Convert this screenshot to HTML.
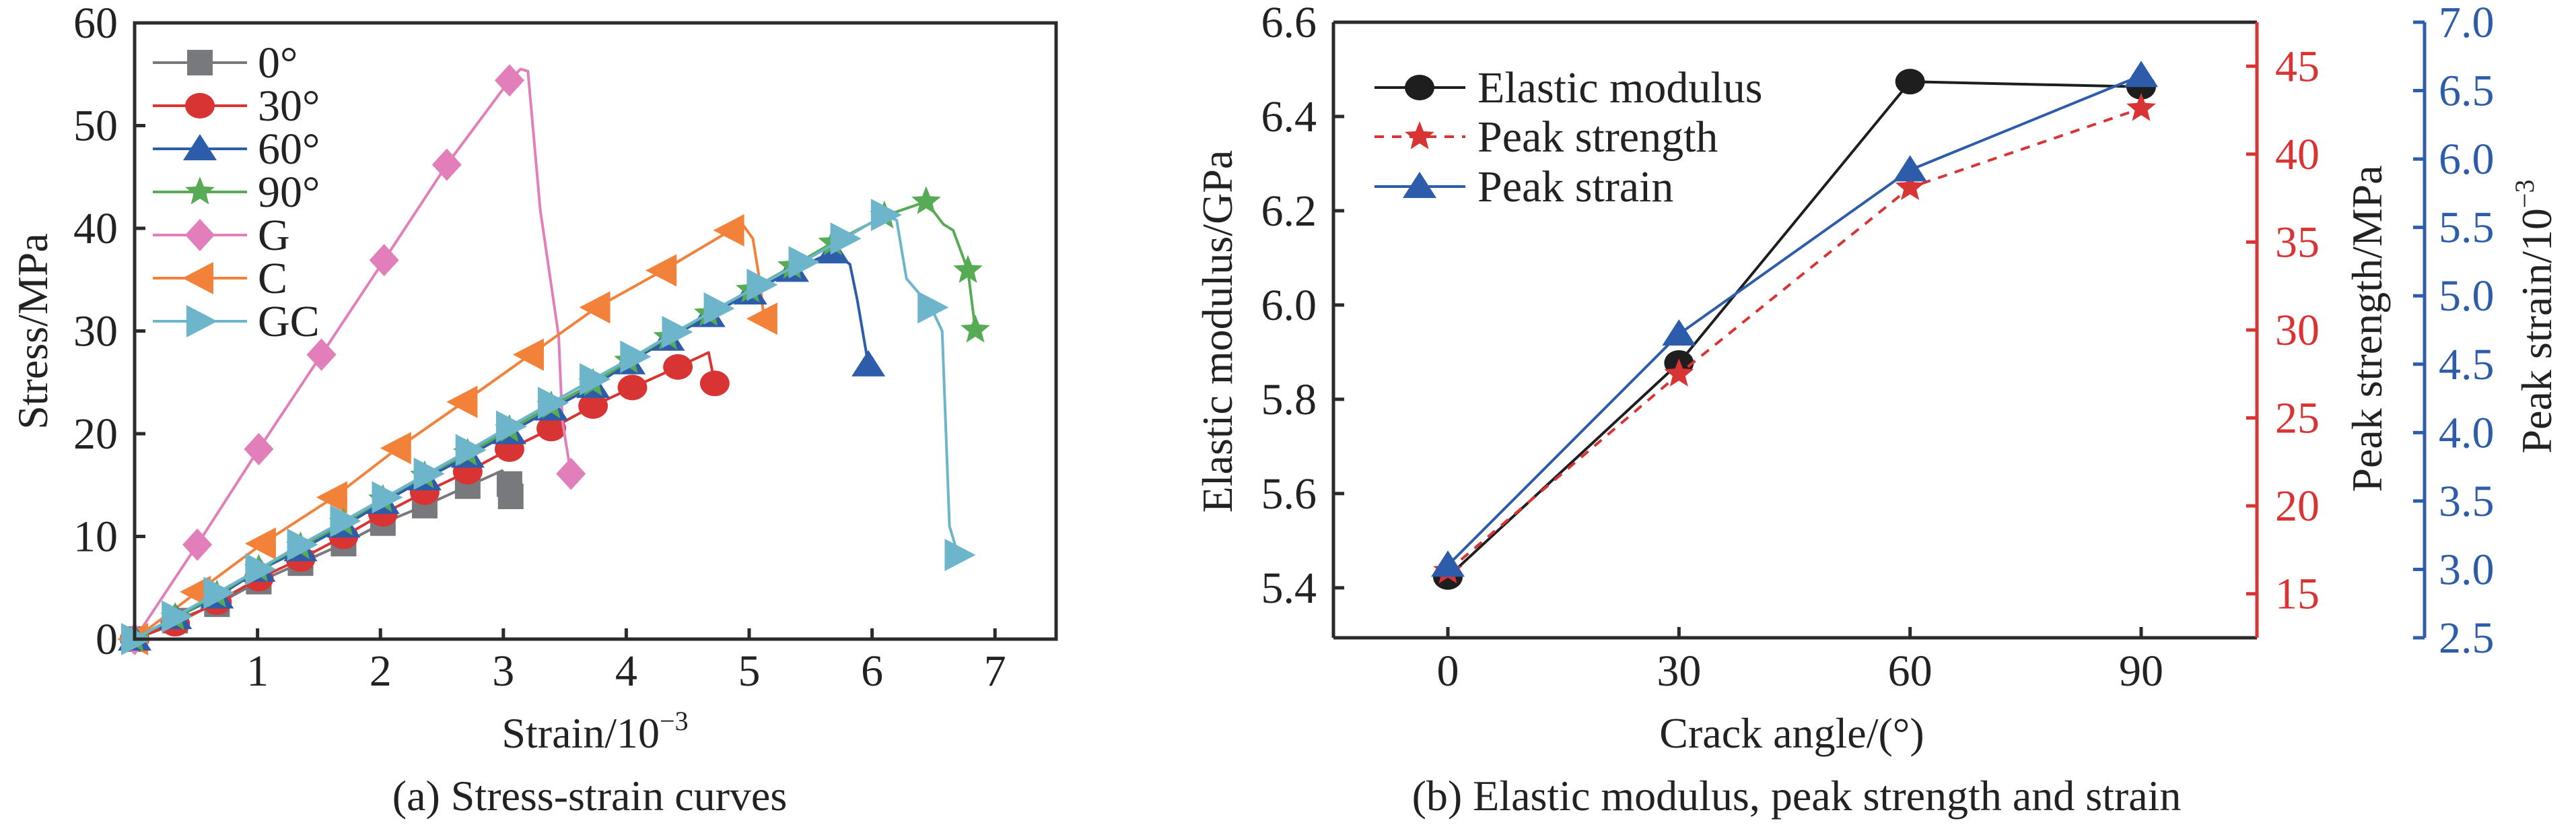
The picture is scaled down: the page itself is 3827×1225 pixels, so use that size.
<!DOCTYPE html>
<html><head><meta charset="utf-8"><style>
html,body{margin:0;padding:0;background:#fff;}
svg{display:block;}
svg text{font-family:"Liberation Serif","DejaVu Serif","Times New Roman",serif;}
</style></head><body>
<svg id="c" width="3827" height="1225" viewBox="0 0 3827 1225" xmlns="http://www.w3.org/2000/svg" font-family="Liberation Serif, DejaVu Serif, serif"></svg>
<script>
// ---------- Chart (a) data ----------
const aXTicks=[1,2,3,4,5,6,7];
const aYTicks=[0,10,20,30,40,50,60];
const names=["0°","30°","60°","90°","G","C","GC"];
const s0x=[0,0.33,0.67,1.01,1.35,1.70,2.02,2.36,2.71,2.99,3.05,3.06];
const s0y=[0,1.8,3.4,5.6,7.4,9.3,11.3,13.0,14.9,16.4,15.1,13.9];
const s0m=[0,1,2,3,4,5,6,7,8,10,11];
const s30x=[0,0.33,0.67,1.01,1.35,1.70,2.02,2.36,2.71,3.05,3.39,3.73,4.05,4.42,4.67,4.72];
const s30y=[0,1.5,3.6,5.9,7.8,10.0,12.2,14.3,16.3,18.5,20.5,22.7,24.5,26.5,27.9,24.9];
const s30m=[0,1,2,3,4,5,6,7,8,9,10,11,12,13,15];
const s60x=[0,0.33,0.67,1.01,1.35,1.70,2.02,2.36,2.71,3.05,3.39,3.73,4.02,4.34,4.67,5.01,5.35,5.68,5.82,5.88,5.97];
const s60y=[0,2.1,4.1,6.7,8.7,11.0,13.3,15.6,17.8,20.1,22.4,24.6,26.9,29.2,31.5,33.7,35.9,37.7,36.5,33.0,26.7];
const s60m=[0,1,2,3,4,5,6,7,8,9,10,11,12,13,14,15,16,17,20];
const s90x=[0,0.33,0.67,1.01,1.35,1.70,2.02,2.36,2.71,3.05,3.39,3.73,4.02,4.34,4.67,5.01,5.35,5.68,6.10,6.44,6.58,6.66,6.78,6.84];
const s90y=[0,2.1,4.3,6.8,9.0,11.3,13.6,15.9,18.1,20.4,22.7,24.9,27.1,29.4,31.7,34.0,36.3,38.6,41.2,42.6,40.4,39.8,35.9,30.1];
const s90m=[0,1,2,3,4,5,6,7,8,9,10,11,12,13,14,15,16,17,18,19,22,23];
const sGx=[0,0.51,1.01,1.52,2.03,2.54,3.05,3.14,3.20,3.30,3.45,3.48,3.55];
const sGy=[0,9.2,18.5,27.7,36.9,46.2,54.4,55.5,55.3,41.8,29.5,21.3,16.1];
const sGm=[0,1,2,3,4,5,6,12];
const sCx=[0,0.51,1.04,1.62,2.14,2.68,3.22,3.76,4.30,4.85,4.94,5.03,5.09,5.12];
const sCy=[0,4.6,9.3,13.8,18.6,23.1,27.7,32.3,35.9,39.8,40.5,39.0,34.6,31.2];
const sCm=[0,1,2,3,4,5,6,7,8,9,13];
const sGCx=[0,0.33,0.67,1.01,1.35,1.70,2.04,2.38,2.72,3.05,3.39,3.73,4.06,4.40,4.74,5.09,5.43,5.77,6.10,6.20,6.28,6.48,6.57,6.63,6.70];
const sGCy=[0,2.2,4.5,6.8,9.2,11.5,13.8,16.1,18.4,20.7,23.0,25.3,27.5,29.9,32.2,34.5,36.7,39.0,41.3,40.8,35.1,32.3,30.0,11.0,8.2];
const sGCm=[0,1,2,3,4,5,6,7,8,9,10,11,12,13,14,15,16,17,18,21,24];

// ---------- Chart (b) data ----------
const bCats=[0,30,60,90];
const bModulus=[5.423,5.877,6.474,6.463];
const bStrength=[16.3,27.5,38.1,42.6];
const bStrain=[3.03,4.72,5.92,6.61];
const bLTicks=["5.4","5.6","5.8","6.0","6.2","6.4","6.6"];
const bRTicks=[15,20,25,30,35,40,45];
const bBTicks=["2.5","3.0","3.5","4.0","4.5","5.0","5.5","6.0","6.5","7.0"];

const NS="http://www.w3.org/2000/svg";
const FONT='Liberation Serif, DejaVu Serif, serif';
const svg=document.getElementById('c');
function mk(tag,attrs,parent){const e=document.createElementNS(NS,tag);for(const k in attrs)e.setAttribute(k,attrs[k]);(parent||svg).appendChild(e);return e;}
function txt(s,x,y,size,anchor,fill,parent,rot){const t=mk('text',{x:x,y:y,'font-size':size,'font-family':FONT,'text-anchor':anchor||'middle',fill:fill||'#222'},parent);if(rot)t.setAttribute('transform','rotate(-90 '+x+' '+y+')');t.textContent=s;return t;}

const colors=["#78797c","#d93434","#2d5cab","#57ab55","#e27fbb","#f2813a","#6cb5ca"];
const shapes=["square","circle","tri","star","diamond","left","right"];
function marker(shape,cx,cy,col,parent){
  if(shape==="square")return mk('rect',{x:cx-19,y:cy-19,width:38,height:38,fill:col},parent);
  if(shape==="circle")return mk('ellipse',{cx:cx,cy:cy,rx:22,ry:19,fill:col},parent);
  if(shape==="tri")return mk('polygon',{points:`${cx},${cy-22} ${cx+25},${cy+17} ${cx-25},${cy+17}`,fill:col},parent);
  if(shape==="diamond")return mk('polygon',{points:`${cx},${cy-24} ${cx+22},${cy} ${cx},${cy+24} ${cx-22},${cy}`,fill:col},parent);
  if(shape==="left")return mk('polygon',{points:`${cx-26},${cy} ${cx+20},${cy-24} ${cx+20},${cy+24}`,fill:col},parent);
  if(shape==="right")return mk('polygon',{points:`${cx+26},${cy} ${cx-20},${cy-24} ${cx-20},${cy+24}`,fill:col},parent);
  if(shape==="star"){let p=[];for(let i=0;i<10;i++){const a=-Math.PI/2+i*Math.PI/5;const rr=i%2?10:23;p.push((cx+rr*Math.cos(a)).toFixed(1)+','+(cy+rr*Math.sin(a)).toFixed(1));}return mk('polygon',{points:p.join(' '),fill:col},parent);}
}

// ===== Chart (a) =====
const aL=200,aR=1569,aT=34,aB=949;
const ax=v=>aL+v*182.6, ay=v=>aB-v*(aB-aT)/60;
const gA=mk('g',{});

const series=[[s0x,s0y,s0m],[s30x,s30y,s30m],[s60x,s60y,s60m],[s90x,s90y,s90m],[sGx,sGy,sGm],[sCx,sCy,sCm],[sGCx,sGCy,sGCm]];
const drawOrder=[0,1,4,5,2,3,6];
drawOrder.forEach(i=>{
  const [xs,ys,ms]=series[i];
  const g=mk('g',{},gA);
  
  
  const pts=xs.map((x,j)=>ax(x).toFixed(1)+','+ay(ys[j]).toFixed(1)).join(' ');
  const pl=mk('polyline',{points:pts,fill:'none',stroke:colors[i],'stroke-width':4,'stroke-linejoin':'round'},g);
  
  
  ms.forEach(j=>{const m=marker(shapes[i],ax(xs[j]),ay(ys[j]),colors[i],g);
    
    });
});
const fa=mk('rect',{x:aL,y:aT,width:aR-aL,height:aB-aT,fill:'none',stroke:'#2b2b2b','stroke-width':5},gA);

aYTicks.forEach(v=>{mk('line',{x1:aL,x2:aL+16,y1:ay(v),y2:ay(v),stroke:'#2b2b2b','stroke-width':5},gA);
  const t=txt(String(v),aL-25,ay(v)+22,66,'end','#222',gA);});
aXTicks.forEach(v=>{mk('line',{x1:ax(v),x2:ax(v),y1:aB,y2:aB-16,stroke:'#2b2b2b','stroke-width':5},gA);
  const t=txt(String(v),ax(v),1018,66,'middle','#222',gA);});
let t=txt('Stress/MPa',70,492,64,'middle','#222',gA,true);
t=mk('text',{x:884,y:1110,'font-size':64,'font-family':FONT,'text-anchor':'middle',fill:'#222'},gA);t.innerHTML='Strain/10<tspan dy="-26" font-size="40">−3</tspan>';

t=txt('(a) Stress-strain curves',876,1203,64,'middle','#222',gA);
const lgA=mk('g',{},gA);
names.forEach((n,i)=>{const y=93+i*64;const g=mk('g',{},lgA);
  
  mk('line',{x1:227,x2:367,y1:y,y2:y,stroke:colors[i],'stroke-width':4},g);
  marker(shapes[i],297,y,colors[i],g);
  txt(n,383,y+22,66,'start','#222',g);});

// ===== Chart (b) =====
const bL=1981,bR=3353,bT=33,bB=947,bBlue=3602;
const bx=v=>2151+v*(3181-2151)/90;
const byL=v=>bT+(6.6-v)*(bB-bT)/1.306;
const byR=v=>bB-(v-12.5)*(bB-bT)/35;
const byB=v=>bB-(v-2.5)*(bB-bT)/4.5;
const gB=mk('g',{});
function line(vals,yf,col,dash,shape,nm){const g=mk('g',{},gB);
  
  const a={points:bCats.map((c,i)=>bx(c).toFixed(1)+','+yf(vals[i]).toFixed(1)).join(' '),fill:'none',stroke:col,'stroke-width':4};
  if(dash)a['stroke-dasharray']='14 12';mk('polyline',a,g);
  bCats.forEach((c,i)=>{const m=marker(shape,bx(c),yf(vals[i]),col,g);
    
    });}
line(bModulus,byL,'#1e1e1e',false,'circle','elastic-modulus-series');
line(bStrength,byR,'#d93434',true,'star','peak-strength-series');
line(bStrain,byB,'#2d5cab',false,'tri','peak-strain-series');
mk('line',{x1:bL,x2:bR,y1:bT,y2:bT,stroke:'#2b2b2b','stroke-width':5},gB);
mk('line',{x1:bL,x2:bR,y1:bB,y2:bB,stroke:'#2b2b2b','stroke-width':5},gB);
mk('line',{x1:bL,x2:bL,y1:bT,y2:bB,stroke:'#2b2b2b','stroke-width':5},gB);
mk('line',{x1:bR,x2:bR,y1:bT,y2:bB,stroke:'#d93434','stroke-width':5},gB);
mk('line',{x1:bBlue,x2:bBlue,y1:bT,y2:bB,stroke:'#2d5cab','stroke-width':5},gB);
bLTicks.forEach(s=>{const y=byL(parseFloat(s));mk('line',{x1:bL,x2:bL+16,y1:y,y2:y,stroke:'#2b2b2b','stroke-width':5},gB);
  const t=txt(s,bL-25,y+22,66,'end','#222',gB);});
bRTicks.forEach(v=>{const y=byR(v);mk('line',{x1:bR,x2:bR-16,y1:y,y2:y,stroke:'#d93434','stroke-width':5},gB);
  const t=txt(String(v),3380,y+22,66,'start','#d93434',gB);});
bBTicks.forEach(s=>{const y=byB(parseFloat(s));mk('line',{x1:bBlue,x2:bBlue-17,y1:y,y2:y,stroke:'#2d5cab','stroke-width':5},gB);
  const t=txt(s,3623,y+22,66,'start','#2d5cab',gB);});
bCats.forEach(c=>{mk('line',{x1:bx(c),x2:bx(c),y1:bB,y2:bB-16,stroke:'#2b2b2b','stroke-width':5},gB);
  const t=txt(String(c),bx(c),1018,66,'middle','#222',gB);});
t=txt('Elastic modulus/GPa',1830,492,64,'middle','#222',gB,true);
t=txt('Peak strength/MPa',3538,488,64,'middle','#222',gB,true);
t=mk('text',{x:3790,y:470,'font-size':64,'font-family':FONT,'text-anchor':'middle',fill:'#222',transform:'rotate(-90 3790 470)'},gB);t.innerHTML='Peak strain/10<tspan dy="-26" font-size="40">−3</tspan>';

t=txt('Crack angle/(°)',2662,1110,64,'middle','#222',gB);
t=txt('(b) Elastic modulus, peak strength and strain',2669,1203,64,'middle','#222',gB);
const lgB=mk('g',{},gB);
[["Elastic modulus",'#1e1e1e',false,'circle',130],["Peak strength",'#d93434',true,'star',203],["Peak strain",'#2d5cab',false,'tri',277]].forEach(e=>{
  const g=mk('g',{},lgB);
  const a={x1:2042,x2:2177,y1:e[4],y2:e[4],stroke:e[1],'stroke-width':4};if(e[2])a['stroke-dasharray']='14 12';mk('line',a,g);
  marker(e[3],2109,e[4],e[1],g);txt(e[0],2195,e[4]+22,66,'start','#222',g);});
</script>
</body></html>
